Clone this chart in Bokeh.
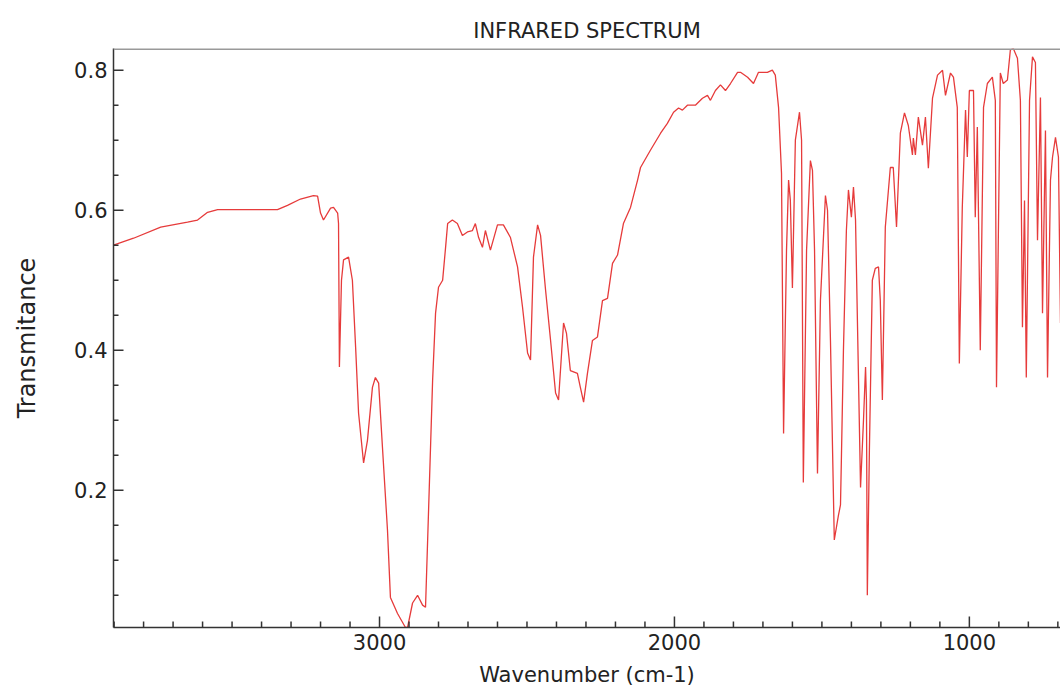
import math
from bokeh.plotting import figure
from bokeh.models import Range1d, FixedTicker, Span
from bokeh.embed import file_html
from bokeh.resources import INLINE

# ---- data ----
wavenumber = [3902, 3834, 3742, 3651, 3617, 3583, 3549, 3346, 3312, 3268, 3224, 3210, 3200, 3190, 3166, 3156,
              3142, 3139, 3136, 3129, 3122, 3105, 3092, 3081, 3071, 3054, 3041, 3024, 3014, 3003, 2990, 2973,
              2963, 2939, 2912, 2905, 2888, 2871, 2854, 2844, 2834, 2820, 2810, 2800, 2786, 2776, 2769, 2753,
              2736, 2719, 2702, 2685, 2675, 2664, 2651, 2641, 2624, 2600, 2580, 2556, 2532, 2515, 2498, 2488,
              2478, 2464, 2454, 2437, 2420, 2403, 2393, 2376, 2366, 2353, 2329, 2319, 2308, 2295, 2278, 2261,
              2244, 2227, 2210, 2193, 2173, 2149, 2125, 2115, 2081, 2047, 2024, 2003, 1986, 1973, 1956, 1929,
              1905, 1888, 1878, 1861, 1844, 1827, 1810, 1786, 1776, 1752, 1732, 1715, 1685, 1668, 1658, 1647,
              1637, 1630, 1620, 1613, 1607, 1600, 1590, 1576, 1569, 1563, 1552, 1539, 1532, 1525, 1515, 1505,
              1488, 1481, 1471, 1458, 1444, 1437, 1434, 1427, 1417, 1410, 1400, 1393, 1386, 1369, 1359, 1352,
              1349, 1346, 1339, 1329, 1319, 1308, 1302, 1295, 1285, 1268, 1258, 1247, 1234, 1220, 1207, 1193,
              1190, 1183, 1173, 1159, 1149, 1139, 1125, 1108, 1091, 1081, 1064, 1054, 1041, 1034, 1024, 1013,
              1007, 1000, 986, 980, 973, 963, 952, 939, 922, 912, 908, 895, 885, 871, 861, 851,
              837, 827, 820, 813, 807, 796, 786, 776, 769, 759, 752, 742, 735, 725, 718, 708,
              698, 691]

transmittance = [0.550, 0.560, 0.576, 0.583, 0.586, 0.597, 0.601, 0.601, 0.607, 0.616, 0.621, 0.620, 0.596, 0.586, 0.603, 0.604,
                 0.596, 0.581, 0.376, 0.500, 0.529, 0.533, 0.500, 0.404, 0.310, 0.239, 0.271, 0.347, 0.361, 0.353, 0.261, 0.143,
                 0.047, 0.024, 0.004, 0.004, 0.039, 0.050, 0.036, 0.033, 0.167, 0.357, 0.453, 0.490, 0.500, 0.547, 0.581, 0.586,
                 0.581, 0.564, 0.569, 0.571, 0.581, 0.561, 0.547, 0.571, 0.543, 0.579, 0.579, 0.561, 0.519, 0.461, 0.396, 0.386,
                 0.533, 0.579, 0.564, 0.486, 0.414, 0.339, 0.329, 0.439, 0.424, 0.371, 0.367, 0.347, 0.326, 0.367, 0.414, 0.419,
                 0.471, 0.474, 0.524, 0.536, 0.581, 0.604, 0.643, 0.661, 0.686, 0.710, 0.724, 0.740, 0.746, 0.743, 0.750, 0.750,
                 0.760, 0.764, 0.757, 0.771, 0.779, 0.771, 0.781, 0.797, 0.797, 0.790, 0.781, 0.797, 0.797, 0.800, 0.793, 0.747,
                 0.653, 0.281, 0.543, 0.643, 0.614, 0.489, 0.700, 0.740, 0.700, 0.211, 0.543, 0.671, 0.657, 0.543, 0.224, 0.471,
                 0.621, 0.600, 0.414, 0.129, 0.164, 0.179, 0.243, 0.400, 0.571, 0.629, 0.590, 0.633, 0.586, 0.204, 0.300, 0.376,
                 0.329, 0.050, 0.257, 0.500, 0.517, 0.519, 0.471, 0.329, 0.576, 0.661, 0.661, 0.576, 0.710, 0.739, 0.721, 0.679,
                 0.703, 0.679, 0.733, 0.693, 0.733, 0.660, 0.760, 0.793, 0.800, 0.764, 0.796, 0.790, 0.747, 0.381, 0.604, 0.743,
                 0.676, 0.771, 0.771, 0.590, 0.719, 0.400, 0.747, 0.781, 0.790, 0.757, 0.347, 0.796, 0.781, 0.786, 0.829, 0.831,
                 0.817, 0.757, 0.433, 0.614, 0.361, 0.757, 0.819, 0.811, 0.557, 0.761, 0.453, 0.714, 0.361, 0.643, 0.676, 0.704,
                 0.676, 0.439]

x_major_ticks = [1000, 2000, 3000]
x_minor_ticks = [w for w in range(700, 3901, 100) if w not in (1000, 2000, 3000)]
y_major_ticks = [0.2, 0.4, 0.6, 0.8]
y_minor_ticks = [round(0.05 * i, 2) for i in range(1, 17) if i % 4 != 0]

title_text = "INFRARED SPECTRUM"
x_label = "Wavenumber (cm-1)"
y_label = "Transmitance"

assert len(wavenumber) == len(transmittance)

FONT = "DejaVu Sans"
X0, X1 = 3902, 691
Y0, Y1 = 0.004, 0.831
AXC = "#333333"

p = figure(width=1060, height=690, output_backend="svg", toolbar_location=None,
           x_range=Range1d(X0, X1), y_range=Range1d(Y0, Y1),
           min_border_left=113, min_border_right=0, min_border_top=48, min_border_bottom=63,
           title=title_text)

p.line(wavenumber, transmittance, line_color="#e63b3b", line_width=1.3)

# inward tick marks (dash markers centred on the axis lines, clipped by the frame)
p.scatter(x_major_ticks, [Y0] * len(x_major_ticks), marker="dash", size=22, angle=math.pi / 2,
          line_color=AXC, line_width=1.5)
p.scatter(x_minor_ticks, [Y0] * len(x_minor_ticks), marker="dash", size=12, angle=math.pi / 2,
          line_color=AXC, line_width=1.5)
p.scatter([X0] * len(y_major_ticks), y_major_ticks, marker="dash", size=20,
          line_color=AXC, line_width=1.5)
p.scatter([X0] * len(y_minor_ticks), y_minor_ticks, marker="dash", size=10,
          line_color=AXC, line_width=1.5)

p.title.align = "center"
p.title.text_font = FONT
p.title.text_font_size = "21px"
p.title.text_font_style = "normal"
p.title.text_color = "#222222"
p.title.standoff = 12

p.grid.visible = False
p.outline_line_color = None
p.background_fill_color = "white"
p.border_fill_color = "white"

top_line = Span(location=Y1, dimension="width", line_color="#999999", line_width=3)
p.add_layout(top_line)

for ax in (p.xaxis[0], p.yaxis[0]):
    ax.axis_line_color = AXC
    ax.axis_line_width = 1.5
    ax.major_tick_in = 0
    ax.major_tick_out = 0
    ax.minor_tick_in = 0
    ax.minor_tick_out = 0
    ax.minor_tick_line_color = None
    ax.major_label_text_font = FONT
    ax.major_label_text_font_size = "21px"
    ax.major_label_text_color = "#222222"
    ax.axis_label_text_font = FONT
    ax.axis_label_text_font_style = "normal"
    ax.axis_label_text_color = "#222222"

p.xaxis[0].axis_label_text_font_size = "21px"
p.yaxis[0].axis_label_text_font_size = "24px"
p.xaxis[0].ticker = FixedTicker(ticks=x_major_ticks, minor_ticks=[])
p.yaxis[0].ticker = FixedTicker(ticks=y_major_ticks, minor_ticks=[])
p.xaxis[0].axis_label = x_label
p.yaxis[0].axis_label = y_label
p.xaxis[0].major_label_standoff = 6
p.yaxis[0].major_label_standoff = 6
p.xaxis[0].axis_label_standoff = 10
p.yaxis[0].axis_label_standoff = 30

open("out.html", "w").write(file_html(p, INLINE))
